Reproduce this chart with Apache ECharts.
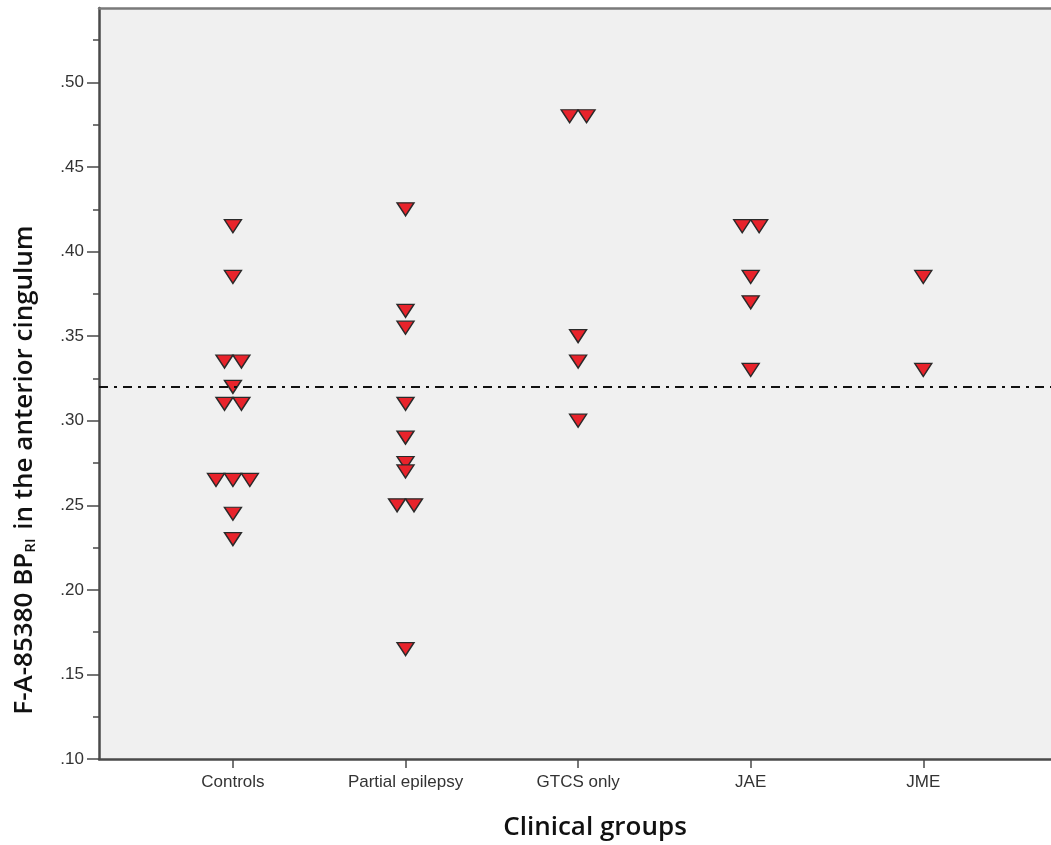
<!DOCTYPE html>
<html>
<head>
<meta charset="utf-8">
<script src="https://cdn.jsdelivr.net/npm/echarts@6/dist/echarts.min.js"></script>
<style>
html,body{margin:0;padding:0;background:#fff;}
#c{width:1051px;height:845px;}
</style>
</head>
<body>
<div id="c"></div>
<script>
// ---- data ----
const categories = ['Controls', 'Partial epilepsy', 'GTCS only', 'JAE', 'JME'];
const controls = [0.415, 0.385, 0.335, 0.335, 0.32, 0.31, 0.31, 0.265, 0.265, 0.265, 0.245, 0.23];
const partialEpilepsy = [0.425, 0.365, 0.355, 0.31, 0.29, 0.275, 0.27, 0.25, 0.25, 0.165];
const gtcsOnly = [0.48, 0.48, 0.35, 0.335, 0.30];
const jae = [0.415, 0.415, 0.385, 0.37, 0.33];
const jme = [0.385, 0.33];
const referenceValue = 0.318;
const yTickValues = [0.10, 0.15, 0.20, 0.25, 0.30, 0.35, 0.40, 0.45, 0.50];
const yMinorTickValues = [0.125, 0.175, 0.225, 0.275, 0.325, 0.375, 0.425, 0.475, 0.525];

const groups = [controls, partialEpilepsy, gtcsOnly, jae, jme];

// dot-plot layout: identical values in a group are spread side by side
const STEP = 0.098;
const points = [];
groups.forEach((vals, gi) => {
  const counts = {};
  vals.forEach(v => { counts[v] = (counts[v] || 0) + 1; });
  const seen = {};
  vals.forEach(v => {
    const n = counts[v];
    const k = seen[v] || 0;
    seen[v] = k + 1;
    const off = (k - (n - 1) / 2) * STEP;
    points.push([gi + 1 + off, v]);
  });
});

const fmt = v => v.toFixed(2).replace(/^0/, '');
const labelFont = '"Liberation Sans", Arial, sans-serif';
const titleFont = '600 26px "Open Sans", sans-serif';

const chart = echarts.init(document.getElementById('c'), null, {renderer: 'canvas'});
chart.setOption({
  animation: false,
  backgroundColor: '#ffffff',
  grid: {
    left: 99, right: 0, top: 8, bottom: 86,
    show: true, backgroundColor: '#f0f0f0', borderWidth: 0
  },
  xAxis: [{
    type: 'value', min: 0.224, max: 5.74,
    splitLine: {show: false},
    axisLine: {show: true, onZero: false, lineStyle: {color: '#4a4a4a', width: 2.5}},
    axisTick: {show: true, customValues: [1, 2, 3, 4, 5], length: 9, lineStyle: {color: '#4a4a4a', width: 1.5}},
    axisLabel: {
      customValues: [1, 2, 3, 4, 5],
      formatter: v => categories[Math.round(v) - 1] || '',
      color: '#333', fontSize: 17, fontFamily: labelFont, margin: 15
    }
  }, {
    type: 'value', position: 'top', min: 0.224, max: 5.74,
    splitLine: {show: false},
    axisLine: {show: true, lineStyle: {color: '#7a7a7a', width: 2.5}},
    axisTick: {show: false}, axisLabel: {show: false}
  }],
  yAxis: [{
    type: 'value', min: 0.1, max: 0.544,
    splitLine: {show: false},
    axisLine: {show: true, onZero: false, lineStyle: {color: '#4a4a4a', width: 2.5}},
    axisTick: {show: true, customValues: yTickValues, length: 12, lineStyle: {color: '#4a4a4a', width: 1.5}},
    axisLabel: {
      customValues: yTickValues,
      formatter: v => fmt(v),
      color: '#333', fontSize: 17, fontFamily: labelFont, margin: 15
    }
  }, {
    type: 'value', min: 0.1, max: 0.544, position: 'left',
    splitLine: {show: false},
    axisLine: {show: false},
    axisTick: {show: true, customValues: yMinorTickValues, length: 6, lineStyle: {color: '#4a4a4a', width: 1.5}},
    axisLabel: {show: false}
  }],
  series: [{
    type: 'scatter',
    xAxisIndex: 0, yAxisIndex: 0,
    data: points,
    symbol: 'triangle',
    symbolRotate: 180,
    symbolSize: [17, 13],
    itemStyle: {color: '#e8232b', borderColor: '#2a2a2a', borderWidth: 1.4, opacity: 1},
    markLine: {
      silent: true,
      symbol: ['none', 'none'],
      label: {show: false},
      lineStyle: {color: '#111', width: 2, type: [9, 6, 3, 6]},
      data: [{yAxis: referenceValue}]
    },
    z: 3
  }],
  graphic: [{
    type: 'text',
    x: 25, y: 470,
    rotation: Math.PI / 2,
    style: {
      text: 'F-A-85380 BP{sub|RI} in the anterior cingulum',
      font: titleFont,
      fill: '#111',
      align: 'center',
      verticalAlign: 'middle',
      rich: {
        sub: {fontSize: 15, fontWeight: 600, fontFamily: 'Open Sans', fill: '#111', padding: [11, 2, 0, 0]}
      }
    }
  }, {
    type: 'text',
    x: 595, y: 828,
    style: {
      text: 'Clinical groups',
      font: titleFont,
      fill: '#111',
      align: 'center',
      verticalAlign: 'middle'
    }
  }]
});
</script>
</body>
</html>
